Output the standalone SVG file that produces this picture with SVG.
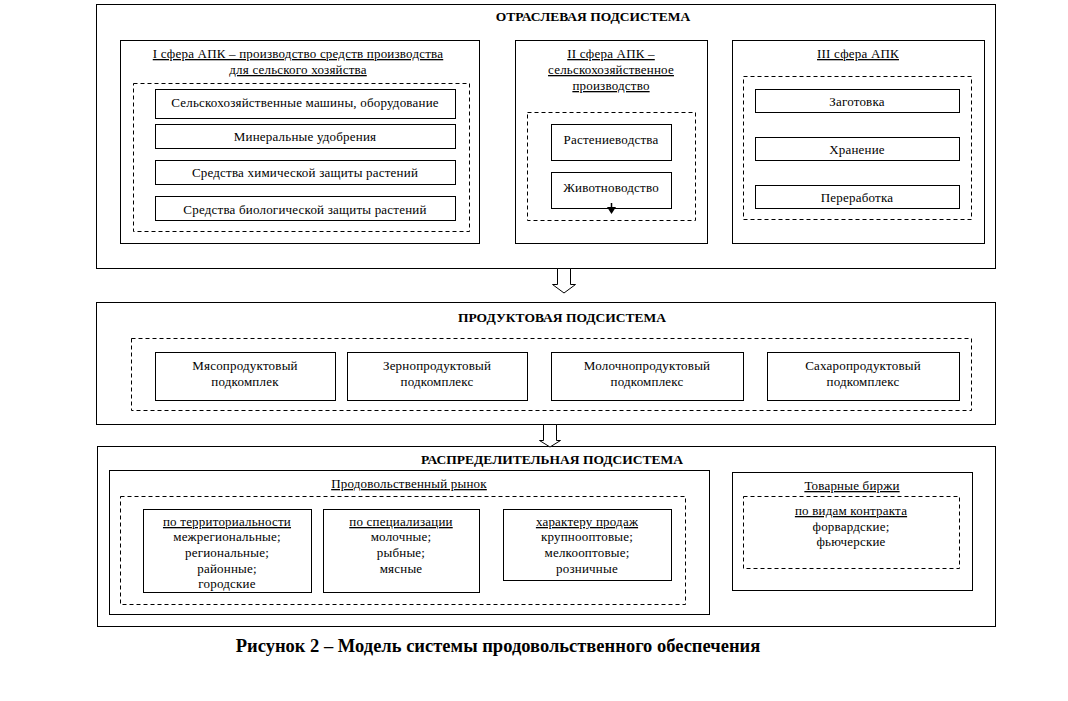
<svg xmlns="http://www.w3.org/2000/svg" width="1068" height="701" viewBox="0 0 1068 701">
<defs>
<style>
.box{fill:#fff;stroke:#000;stroke-width:1}
.dash{fill:none;stroke:#000;stroke-width:1;stroke-dasharray:4,3}
.t{font-family:"Liberation Serif","Times New Roman",serif;font-size:13px;letter-spacing:0.2px;fill:#000;text-anchor:middle}
.u{text-decoration:underline}
.h{font-family:"Liberation Serif","Times New Roman",serif;font-size:13.5px;font-weight:bold;fill:#000;text-anchor:middle}
.cap{font-family:"Liberation Serif","Times New Roman",serif;font-size:18.5px;font-weight:bold;fill:#000;text-anchor:middle}
.arr{fill:#fff;stroke:#000;stroke-width:1}
</style>
</defs>
<rect width="1068" height="701" fill="#fff"/>

<g id="otraslevaya">
<rect class="box" x="96.5" y="4.5" width="899" height="264"/>
<text class="h" x="593" y="21">ОТРАСЛЕВАЯ ПОДСИСТЕМА</text>
</g>

<g id="sfera1">
<rect class="box" x="120.5" y="40.5" width="359" height="203"/>
<text class="t u" x="298" y="58">I сфера АПК – производство средств производства</text>
<text class="t u" x="298" y="74">для сельского хозяйства</text>
<rect class="dash" x="133.5" y="83.5" width="336" height="148"/>
</g>
<g id="s1-mashiny"><rect class="box" x="155.5" y="89.5" width="300" height="29"/><text class="t" x="305" y="107">Сельскохозяйственные машины, оборудование</text></g>
<g id="s1-udobreniya"><rect class="box" x="155.5" y="124.5" width="300" height="24"/><text class="t" x="305" y="141">Минеральные удобрения</text></g>
<g id="s1-khim"><rect class="box" x="155.5" y="160.5" width="300" height="24"/><text class="t" x="305" y="177">Средства химической защиты растений</text></g>
<g id="s1-bio"><rect class="box" x="155.5" y="196.5" width="300" height="24"/><text class="t" x="305" y="214">Средства биологической защиты растений</text></g>

<g id="sfera2">
<rect class="box" x="515.5" y="40.5" width="192" height="203"/>
<text class="t u" x="611" y="58">II сфера АПК –</text>
<text class="t u" x="611" y="74">сельскохозяйственное</text>
<text class="t u" x="611" y="90">производство</text>
<rect class="dash" x="527.5" y="112.5" width="168" height="108"/>
</g>
<g id="s2-rast"><rect class="box" x="551.5" y="124.5" width="120" height="36"/><text class="t" x="611" y="144">Растениеводства</text></g>
<g id="s2-zhiv"><rect class="box" x="551.5" y="172.5" width="120" height="36"/><text class="t" x="611" y="192">Животноводство</text></g>

<g id="sfera3">
<rect class="box" x="732.5" y="40.5" width="252" height="203"/>
<text class="t u" x="858" y="58">III сфера АПК</text>
<rect class="dash" x="743.5" y="76.5" width="228" height="143"/>
</g>
<g id="s3-zag"><rect class="box" x="755.5" y="89.5" width="204" height="23"/><text class="t" x="857" y="106">Заготовка</text></g>
<g id="s3-khran"><rect class="box" x="755.5" y="137.5" width="204" height="23"/><text class="t" x="857" y="154">Хранение</text></g>
<g id="s3-perer"><rect class="box" x="755.5" y="185.5" width="204" height="23"/><text class="t" x="857" y="202">Переработка</text></g>

<g id="produktovaya">
<rect class="box" x="96.5" y="302.5" width="899" height="122"/>
<text class="h" x="562" y="322">ПРОДУКТОВАЯ ПОДСИСТЕМА</text>
<rect class="dash" x="131.5" y="338.5" width="840" height="72"/>
</g>
<g id="p-myaso"><rect class="box" x="155.5" y="352.5" width="180" height="48"/><text class="t" x="245" y="370">Мясопродуктовый</text><text class="t" x="245" y="386">подкомплек</text></g>
<g id="p-zerno"><rect class="box" x="347.5" y="352.5" width="180" height="48"/><text class="t" x="437" y="370">Зернопродуктовый</text><text class="t" x="437" y="386">подкомплекс</text></g>
<g id="p-moloko"><rect class="box" x="551.5" y="352.5" width="192" height="48"/><text class="t" x="647" y="370">Молочнопродуктовый</text><text class="t" x="647" y="386">подкомплекс</text></g>
<g id="p-sakhar"><rect class="box" x="767.5" y="352.5" width="192" height="48"/><text class="t" x="863" y="370">Сахаропродуктовый</text><text class="t" x="863" y="386">подкомплекс</text></g>

<g id="raspredelitelnaya">
<rect class="box" x="97.5" y="446.5" width="898" height="180"/>
<text class="h" x="552" y="464">РАСПРЕДЕЛИТЕЛЬНАЯ ПОДСИСТЕМА</text>
</g>
<g id="rynok">
<rect class="box" x="109.5" y="470.5" width="600" height="144"/>
<text class="t u" x="409" y="488">Продовольственный рынок</text>
<rect class="dash" x="120.5" y="496.5" width="565" height="108"/>
</g>
<g id="r-terr"><rect class="box" x="143.5" y="509.5" width="168" height="83"/>
<text class="t u" x="227" y="526">по территориальности</text>
<text class="t" x="227" y="541">межрегиональные;</text>
<text class="t" x="227" y="557">региональные;</text>
<text class="t" x="227" y="573">районные;</text>
<text class="t" x="227" y="588">городские</text></g>
<g id="r-spec"><rect class="box" x="323.5" y="509.5" width="156" height="83"/>
<text class="t u" x="401" y="526">по специализации</text>
<text class="t" x="401" y="541">молочные;</text>
<text class="t" x="401" y="557">рыбные;</text>
<text class="t" x="401" y="573">мясные</text></g>
<g id="r-khar"><rect class="box" x="503.5" y="509.5" width="168" height="71"/>
<text class="t u" x="587" y="526">характеру продаж</text>
<text class="t" x="587" y="541">крупнооптовые;</text>
<text class="t" x="587" y="557">мелкооптовые;</text>
<text class="t" x="587" y="573">розничные</text></g>
<g id="birzhi">
<rect class="box" x="732.5" y="472.5" width="240" height="118"/>
<text class="t u" x="852" y="490">Товарные биржи</text>
<rect class="dash" x="743.5" y="496.5" width="216" height="72"/>
<text class="t u" x="851" y="515">по видам контракта</text>
<text class="t" x="851" y="531">форвардские;</text>
<text class="t" x="851" y="546">фьючерские</text>
</g>

<g id="connectors">
<polygon class="arr" points="557.5,268.5 570.5,268.5 570.5,284.5 575.5,284.5 564,293 552.5,284.5 557.5,284.5"/>
<polygon class="arr" points="543.5,424.5 556.5,424.5 556.5,440.5 560.5,440.5 550,447 539.5,440.5 543.5,440.5"/>
<line x1="611.5" y1="203" x2="611.5" y2="209" stroke="#000" stroke-width="1.5"/>
<polygon points="607,207 616,207 611.5,214" fill="#000"/>
</g>

<text class="cap" x="498" y="652">Рисунок 2 – Модель системы продовольственного обеспечения</text>
</svg>
